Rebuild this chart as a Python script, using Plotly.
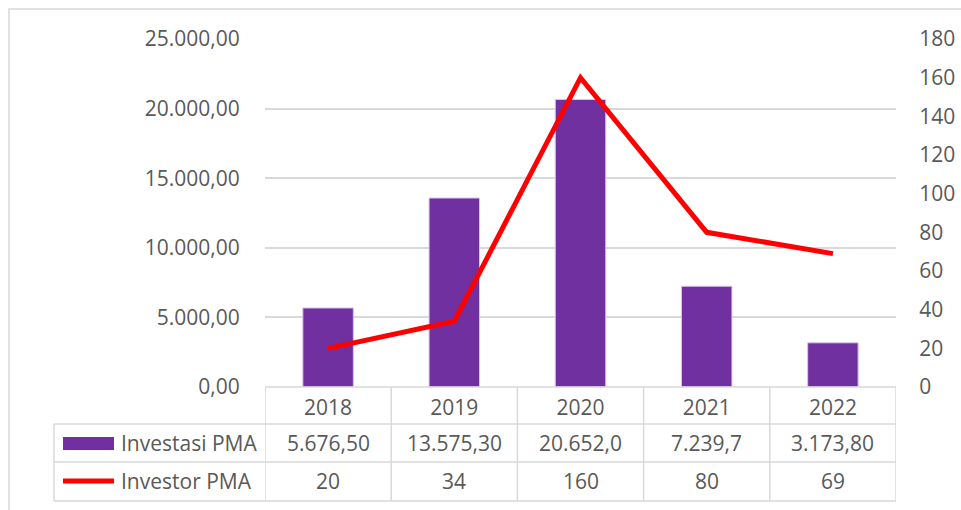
import plotly.graph_objects as go

# Data
years = ["2018", "2019", "2020", "2021", "2022"]
investasi_pma = [5676.50, 13575.30, 20652.0, 7239.7, 3173.80]
investasi_labels = ["5.676,50", "13.575,30", "20.652,0", "7.239,7", "3.173,80"]
investor_pma = [20, 34, 160, 80, 69]
series_names = ["Investasi PMA", "Investor PMA"]

# Styling
PURPLE = "#7030A0"
RED = "#FF0000"
GRID = "#D9D9D9"
TEXT = "#595959"
FONT = "Open Sans"
FSIZE = 21

W, H = 961, 510
L, R, T, B = 265, 896, 39, 387  # plot area in pixels
PW, PH = R - L, B - T


def px_x(p):
    return (p - L) / PW


def px_y(p):
    return (B - p) / PH


fig = go.Figure()

fig.add_trace(go.Bar(
    x=years, y=investasi_pma, name=series_names[0],
    marker=dict(color=PURPLE, line=dict(color="#D7C6E8", width=1)),
    width=0.4, yaxis="y", showlegend=False,
))
fig.add_trace(go.Scatter(
    x=years, y=investor_pma, name=series_names[1], mode="lines",
    line=dict(color=RED, width=5), yaxis="y2", showlegend=False,
))

shapes = []
line_style = dict(color=GRID, width=1.5)

# outer chart frame
shapes.append(dict(type="rect", xref="paper", yref="paper",
                   x0=px_x(9), x1=px_x(975), y0=px_y(520), y1=px_y(9),
                   line=line_style, layer="below"))

# data table grid: horizontal rules
shapes.append(dict(type="line", xref="paper", yref="paper",
                   x0=0, x1=1, y0=px_y(387), y1=px_y(387), line=line_style))
for yy in (424, 462, 501):
    shapes.append(dict(type="line", xref="paper", yref="paper",
                       x0=px_x(54), x1=1, y0=px_y(yy), y1=px_y(yy), line=line_style))
# vertical rules at category boundaries
for k in range(len(years) + 1):
    shapes.append(dict(type="line", xref="x", yref="paper",
                       x0=k - 0.5, x1=k - 0.5, y0=px_y(387), y1=px_y(501),
                       line=line_style))
shapes.append(dict(type="line", xref="paper", yref="paper",
                   x0=px_x(54), x1=px_x(54), y0=px_y(424), y1=px_y(501),
                   line=line_style))

# legend keys inside the table
shapes.append(dict(type="rect", xref="paper", yref="paper",
                   x0=px_x(63), x1=px_x(114), y0=px_y(450), y1=px_y(437),
                   fillcolor=PURPLE, line=dict(width=0)))
shapes.append(dict(type="line", xref="paper", yref="paper",
                   x0=px_x(63), x1=px_x(114), y0=px_y(481), y1=px_y(481),
                   line=dict(color=RED, width=5)))

annotations = []
font = dict(family=FONT, size=FSIZE, color=TEXT)
row_y = [px_y(443), px_y(481)]
for name, ry in zip(series_names, row_y):
    annotations.append(dict(text=name, xref="paper", yref="paper",
                            x=px_x(119), y=ry, xanchor="left", yanchor="middle",
                            showarrow=False, font=font))
for i, (lab, val) in enumerate(zip(investasi_labels, investor_pma)):
    annotations.append(dict(text=lab, xref="x", yref="paper", x=i, y=row_y[0],
                            xanchor="center", yanchor="middle", showarrow=False, font=font))
    annotations.append(dict(text=str(val), xref="x", yref="paper", x=i, y=row_y[1],
                            xanchor="center", yanchor="middle", showarrow=False, font=font))

fig.update_layout(
    width=W, height=H,
    margin=dict(l=L, r=W - R, t=T, b=H - B, pad=0, autoexpand=False),
    paper_bgcolor="white", plot_bgcolor="white",
    separators=",.",
    font=font,
    xaxis=dict(type="category", range=[-0.5, len(years) - 0.5], showgrid=False,
               showline=False, zeroline=False, ticks="outside", ticklen=2,
               tickcolor="rgba(0,0,0,0)", tickfont=font, automargin=False),
    yaxis=dict(range=[0, 25000], dtick=5000, tickformat=",.2f", showgrid=True,
               gridcolor=GRID, gridwidth=1.5, zeroline=False, showline=False,
               ticks="outside", ticklen=20, tickcolor="rgba(0,0,0,0)", tickfont=font,
               automargin=False),
    yaxis2=dict(range=[0, 180], dtick=20, tickformat="d", overlaying="y", side="right",
                showgrid=False, zeroline=False, showline=False,
                ticks="outside", ticklen=18, tickcolor="rgba(0,0,0,0)", tickfont=font,
                automargin=False),
    shapes=shapes,
    annotations=annotations,
    hovermode=False,
)

fig.write_html("out.html")
